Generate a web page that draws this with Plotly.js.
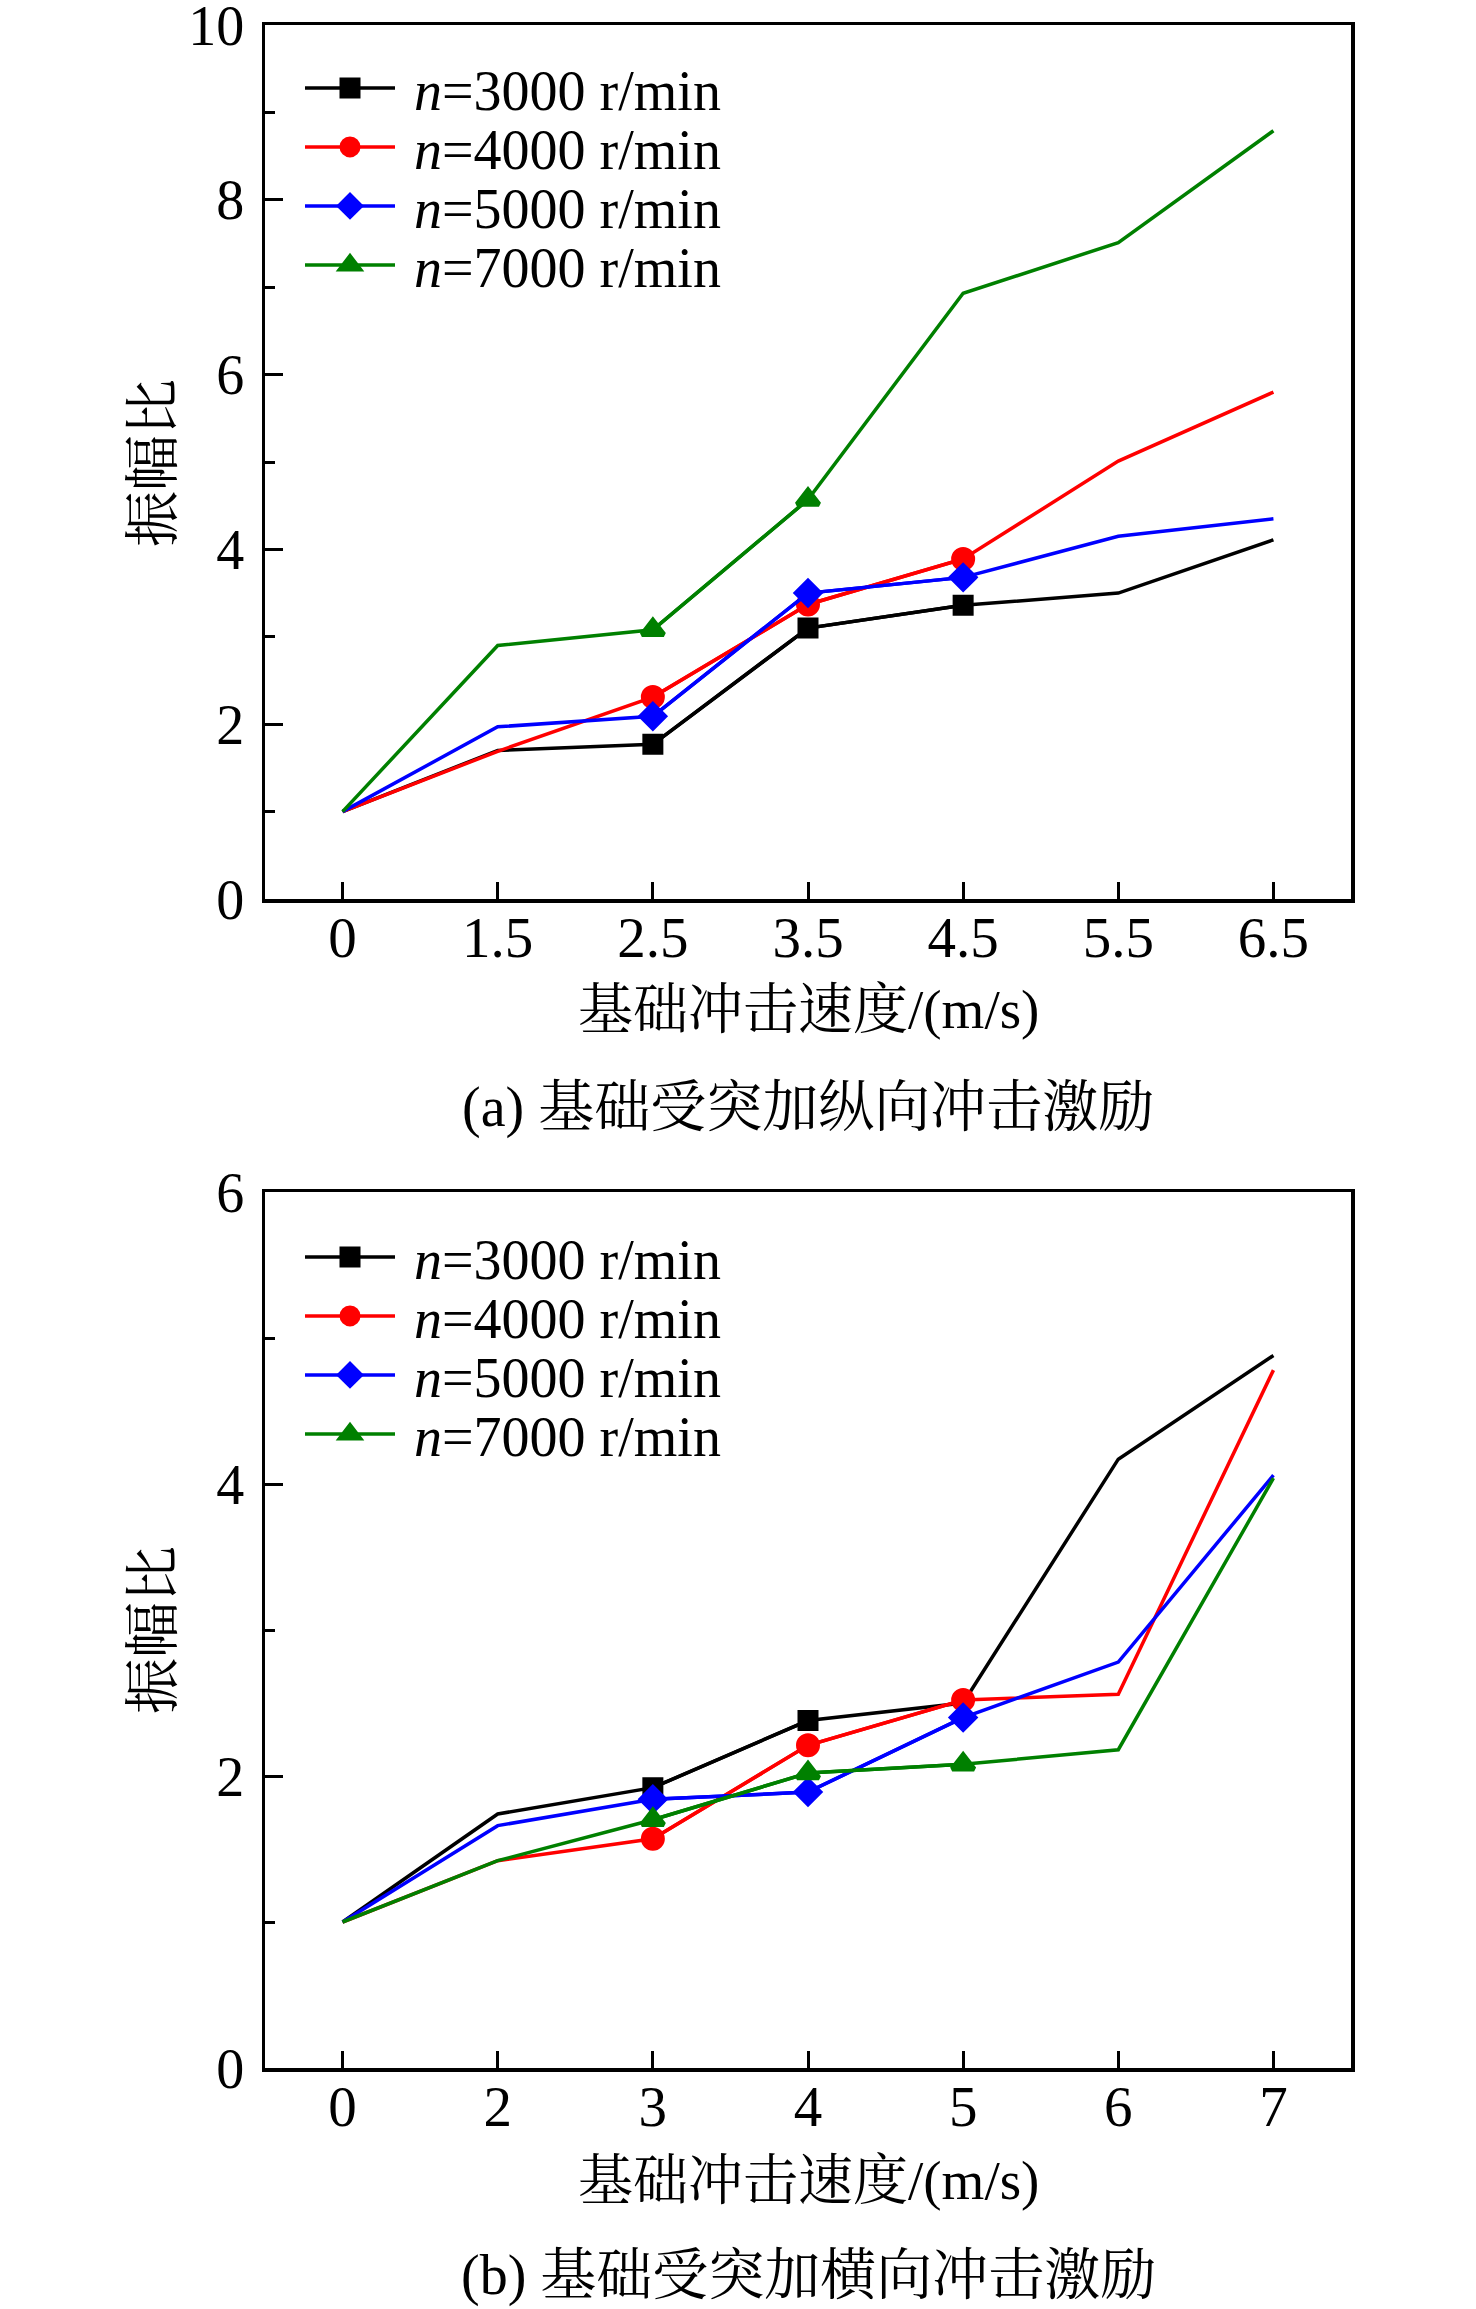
<!DOCTYPE html>
<html>
<head>
<meta charset="utf-8">
<script src="https://cdn.plot.ly/plotly-3.0.1.min.js"></script>
<style>
  html, body { margin: 0; padding: 0; background: #fff; }
  #plot { width: 1476px; height: 2309px; }
</style>
</head>
<body>
<div id="plot"></div>
<script>
// (a) longitudinal impact
const catsA = ['0', '1.5', '2.5', '3.5', '4.5', '5.5', '6.5']
const a3000 = [1.0, 1.70, 1.77, 3.10, 3.36, 3.50, 4.11]
const a4000 = [1.0, 1.69, 2.31, 3.37, 3.89, 5.01, 5.80]
const a5000 = [1.0, 1.97, 2.09, 3.50, 3.68, 4.15, 4.35]
const a7000 = [1.0, 2.90, 3.08, 4.57, 6.93, 7.51, 8.79]
// categories where a marker is drawn
const markA3000 = ['2.5', '3.5', '4.5']
const markA4000 = ['2.5', '3.5', '4.5']
const markA5000 = ['2.5', '3.5', '4.5']
const markA7000 = ['2.5', '3.5']

// (b) transverse impact
const catsB = ['0', '2', '3', '4', '5', '6', '7']
const b3000 = [1.0, 1.74, 1.92, 2.38, 2.50, 4.17, 4.88]
const b4000 = [1.0, 1.42, 1.57, 2.21, 2.52, 2.56, 4.78]
const b5000 = [1.0, 1.66, 1.84, 1.89, 2.40, 2.78, 4.06]
const b7000 = [1.0, 1.42, 1.70, 2.02, 2.08, 2.18, 4.04]
const markB3000 = ['3', '4']
const markB4000 = ['3', '4', '5']
const markB5000 = ['3', '4', '5']
const markB7000 = ['3', '4', '5']

const seriesNames = ['<i>n</i>=3000 r/min', '<i>n</i>=4000 r/min', '<i>n</i>=5000 r/min', '<i>n</i>=7000 r/min']
const yTitle = '振幅比'
const xTitle = '基础冲击速度/(m/s)'
const captionA = '(a) 基础受突加纵向冲击激励'
const captionB = '(b) 基础受突加横向冲击激励'

const W = 1476, H = 2309
const FONT = "'Liberation Serif', 'Noto Serif CJK SC', 'Noto Sans CJK SC', serif"
const styles = [
    {color: '#000000', symbol: 'square', size: 16},
    {color: '#ff0000', symbol: 'circle', size: 19},
    {color: '#0000ff', symbol: 'diamond', size: 18},
    {color: '#008000', symbol: 'triangle-up', size: 19},
]

function px(x) { return x / W }
function py(y) { return 1 - y / H }

let traces = []

function addSeries(cats, ys, marked, k, xa, ya, legendId) {
    let st = styles[k]
    // the full line
    traces.push({
        type: 'scatter', mode: 'lines', x: cats, y: ys, xaxis: xa, yaxis: ya,
        line: {color: st.color, width: 3.5}, showlegend: false, hoverinfo: 'skip'
    })
    // markers only where the reference has them
    traces.push({
        type: 'scatter', mode: 'lines+markers', x: cats,
        y: ys.map((v, i) => marked.includes(cats[i]) ? v : null),
        connectgaps: false, xaxis: xa, yaxis: ya,
        line: {color: st.color, width: 3.5},
        marker: {symbol: st.symbol, size: st.size, color: st.color, line: {color: st.color, width: 5}},
        name: '\u00A0' + seriesNames[k], legend: legendId
    })
}

addSeries(catsA, a3000, markA3000, 0, 'x', 'y', 'legend')
addSeries(catsA, a4000, markA4000, 1, 'x', 'y', 'legend2')
addSeries(catsA, a5000, markA5000, 2, 'x', 'y', 'legend3')
addSeries(catsA, a7000, markA7000, 3, 'x', 'y', 'legend4')
addSeries(catsB, b3000, markB3000, 0, 'x2', 'y2', 'legend5')
addSeries(catsB, b4000, markB4000, 1, 'x2', 'y2', 'legend6')
addSeries(catsB, b5000, markB5000, 2, 'x2', 'y2', 'legend7')
addSeries(catsB, b7000, markB7000, 3, 'x2', 'y2', 'legend8')

function xAxis(anchor) {
    return {
        type: 'category', range: [-0.5, 6.5], domain: [px(265), px(1351)], anchor: anchor,
        showline: true, linewidth: 3.5, linecolor: '#000', mirror: true,
        ticks: 'inside', ticklen: 17, tickwidth: 3, tickcolor: '#000',
        ticklabelstandoff: -14,
        tickfont: {family: FONT, size: 57, color: '#000'},
        showgrid: false, zeroline: false, fixedrange: true
    }
}

function yAxis(anchor, top, bottom, max) {
    return {
        range: [0, max], domain: [py(bottom), py(top)], anchor: anchor,
        dtick: 2, tick0: 0,
        showline: true, linewidth: 3.5, linecolor: '#000', mirror: true,
        ticks: 'inside', ticklen: 18, tickwidth: 3, tickcolor: '#000',
        minor: {dtick: 1, ticks: 'inside', ticklen: 10, tickwidth: 3, tickcolor: '#000', showgrid: false},
        ticklabelstandoff: 6, ticklabeloverflow: 'allow',
        tickfont: {family: FONT, size: 56, color: '#000'},
        showgrid: false, zeroline: false, fixedrange: true
    }
}

function legendAt(y) {
    return {
        x: px(300), y: py(y), xanchor: 'left', yanchor: 'middle',
        bgcolor: 'rgba(0,0,0,0)', borderwidth: 0, itemwidth: 90,
        font: {family: FONT, size: 56, color: '#000'}
    }
}

const rowsA = [88, 147, 206, 265]
const rowsB = [1257, 1316, 1375, 1434]

function note(text, x, y, size, angle) {
    return {
        text: text, xref: 'paper', yref: 'paper', x: px(x), y: py(y),
        xanchor: 'center', yanchor: 'middle', textangle: angle || 0,
        showarrow: false, font: {family: FONT, size: size, color: '#000'}
    }
}

let layout = {
    width: W, height: H,
    margin: {l: 0, r: 0, t: 0, b: 0},
    paper_bgcolor: '#fff', plot_bgcolor: 'rgba(0,0,0,0)',
    font: {family: FONT, color: '#000'},
    xaxis: xAxis('y'),
    yaxis: yAxis('x', 25, 899, 10),
    xaxis2: xAxis('y2'),
    yaxis2: yAxis('x2', 1192, 2068, 6),
    legend: legendAt(rowsA[0]),
    legend2: legendAt(rowsA[1]),
    legend3: legendAt(rowsA[2]),
    legend4: legendAt(rowsA[3]),
    legend5: legendAt(rowsB[0]),
    legend6: legendAt(rowsB[1]),
    legend7: legendAt(rowsB[2]),
    legend8: legendAt(rowsB[3]),
    annotations: [
        note(yTitle, 153, 463, 56, -90),
        note(xTitle, 808, 1009, 55),
        note(captionA, 808, 1107, 56),
        note(yTitle, 153, 1630, 56, -90),
        note(xTitle, 808, 2180, 55),
        note(captionB, 808, 2275, 56),
    ]
}

Plotly.newPlot('plot', traces, layout, {staticPlot: true})
</script>
</body>
</html>
